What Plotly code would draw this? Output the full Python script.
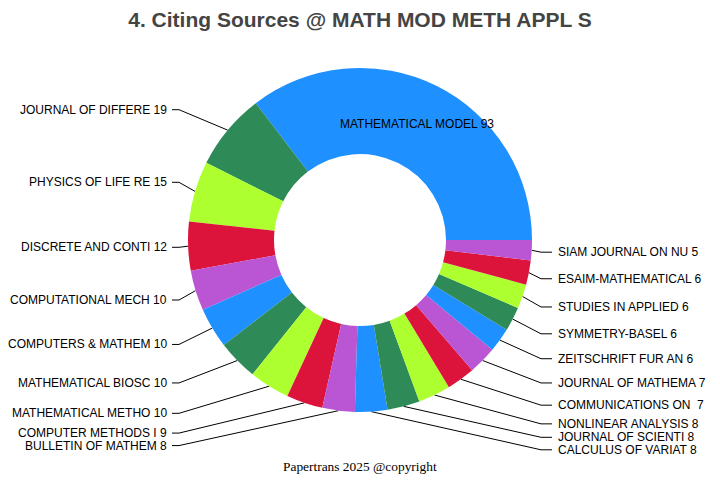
import math
import plotly.graph_objects as go

# citing journals (names cut to 18 chars) and counts
sources = [
    "MATHEMATICAL MODEL", "JOURNAL OF DIFFERE", "PHYSICS OF LIFE RE",
    "DISCRETE AND CONTI", "COMPUTATIONAL MECH", "COMPUTERS & MATHEM",
    "MATHEMATICAL BIOSC", "MATHEMATICAL METHO", "COMPUTER METHODS I",
    "BULLETIN OF MATHEM", "CALCULUS OF VARIAT", "JOURNAL OF SCIENTI",
    "NONLINEAR ANALYSIS", "COMMUNICATIONS ON ", "JOURNAL OF MATHEMA",
    "ZEITSCHRIFT FUR AN", "SYMMETRY-BASEL", "STUDIES IN APPLIED",
    "ESAIM-MATHEMATICAL", "SIAM JOURNAL ON NU",
]
counts = [93, 19, 15, 12, 10, 10, 10, 10, 9, 8, 8, 8, 8, 7, 7, 6, 6, 6, 6, 5]

palette = ["dodgerblue", "seagreen", "greenyellow", "crimson", "mediumorchid"]
colors = [palette[i % len(palette)] for i in range(len(counts))]

W, H = 720, 480
# pie centre and radii in pixels
CX, CY = 352, 232
R_OUT = 172
R_IN = 86
R_LABEL = 204
ELBOW = 181
GAP = 12.5
# line end / text start per side (left side a bit tighter so text fits)
LINE_END = {-1: 188, 1: 192}
TEXT_X = {-1: 191, 1: 196}

total = sum(counts)

# slice mid angles, ccw from 3 o'clock
mids = []
start = 0.0
for c in counts:
    span = c / total * 360
    mids.append(start + span / 2)
    start += span

# plotly's ccw mode puts the first slice clockwise of `rotation`,
# so shift by its size to have it start at 3 o'clock going ccw
rot = 90 - counts[0] / total * 360

# outside labels for every slice but the big one, pushed apart per side
labels_out = []
for i in range(1, len(counts)):
    a = math.radians(mids[i])
    side = -1 if math.cos(a) < 0 else 1
    labels_out.append(dict(i=i, side=side, a=a, y=R_LABEL * math.sin(a)))

for side in (-1, 1):
    items = sorted([d for d in labels_out if d["side"] == side], key=lambda d: -d["y"])
    for j in range(1, len(items)):
        if items[j]["y"] > items[j - 1]["y"] - GAP:
            items[j]["y"] = items[j - 1]["y"] - GAP

line_x, line_y = [], []
annots = []
for d in labels_out:
    a, s, y = d["a"], d["side"], d["y"]
    line_x += [R_OUT * math.cos(a), s * ELBOW, s * LINE_END[s], None]
    line_y += [R_OUT * math.sin(a), y, y, None]
    annots.append(dict(
        text=f"{sources[d['i']]} {counts[d['i']]}",
        x=s * TEXT_X[s], y=y, xref="x", yref="y",
        xanchor="left" if s > 0 else "right", yanchor="middle",
        showarrow=False,
        font=dict(family="Arial", size=12, color="black"),
    ))

# big slice label sits inside the ring at its mid angle
a0 = math.radians(mids[0])
r_mid = (R_OUT + R_IN) / 2
annots.append(dict(
    text=f"{sources[0]} {counts[0]}",
    x=r_mid * math.cos(a0), y=r_mid * math.sin(a0), xref="x", yref="y",
    xanchor="center", yanchor="middle", showarrow=False,
    font=dict(family="Arial", size=12, color="black"),
))

annots.append(dict(
    text="Papertrans 2025 @copyright",
    x=0, y=-226, xref="x", yref="y",
    xanchor="center", yanchor="middle", showarrow=False,
    font=dict(family="Times New Roman", size=13.4, color="black"),
))

fig = go.Figure()
fig.add_trace(go.Pie(
    labels=sources,
    values=counts,
    hole=R_IN / R_OUT,
    sort=False,
    direction="counterclockwise",
    rotation=rot,
    marker=dict(colors=colors),
    textinfo="none",
    showlegend=False,
    hoverinfo="label+value+percent",
    domain=dict(
        x=[(CX - R_OUT) / W, (CX + R_OUT) / W],
        y=[1 - (CY + R_OUT) / H, 1 - (CY - R_OUT) / H],
    ),
))
fig.add_trace(go.Scatter(
    x=line_x, y=line_y, mode="lines",
    line=dict(color="black", width=1),
    hoverinfo="skip", showlegend=False,
))

fig.update_layout(
    title=dict(
        text="<b>4. Citing Sources @ MATH MOD METH APPL S</b>",
        x=CX / W, xref="container", xanchor="center",
        y=0.975, yanchor="middle",
        font=dict(family="Arial", size=21, color="#444444"),
    ),
    width=W, height=H,
    margin=dict(l=0, r=0, t=0, b=0, autoexpand=False),
    paper_bgcolor="white",
    plot_bgcolor="white",
    xaxis=dict(range=[-CX, W - CX], visible=False, fixedrange=True),
    yaxis=dict(range=[CY - H, CY], visible=False, fixedrange=True),
    annotations=annots,
)

fig.write_html("out.html")
